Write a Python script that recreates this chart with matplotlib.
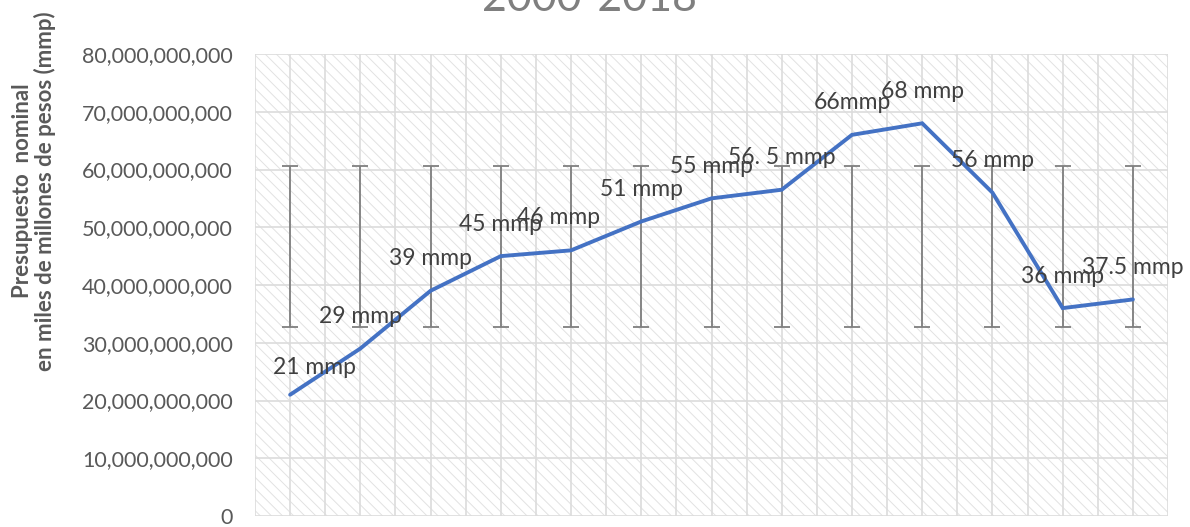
import numpy as np
import matplotlib
matplotlib.use("Agg")
import matplotlib.pyplot as plt
from matplotlib.ticker import FuncFormatter, MultipleLocator

plt.rcParams['font.family'] = ['Lato', 'DejaVu Sans']
plt.rcParams['hatch.linewidth'] = 0.7

# Presupuesto nominal por año (miles de millones de pesos)
years = list(range(2006, 2019))
budget_mmp = [21, 29, 39, 45, 46, 51, 55, 56.5, 66, 68, 56, 36, 37.5]
point_labels = ["21 mmp", "29 mmp", "39 mmp", "45 mmp", "46 mmp", "51 mmp",
                "55 mmp", "56. 5 mmp", "66mmp", "68 mmp", "56 mmp",
                "36 mmp", "37.5 mmp"]
title_text = "2000-2018"
ylabel_text = "Presupuesto  nominal\nen miles de millones de pesos (mmp)"

values = np.array(budget_mmp) * 1e9
x = np.arange(len(values))

# label placement (pixels relative to each point)
label_offsets = {0: (24, 27), 4: (-12, 33)}
default_offset = (0, 32)

fig = plt.figure(figsize=(11.90, 5.27), dpi=100)
ax = fig.add_axes([255 / 1190, 1 - 516 / 527, 913 / 1190, 462 / 527])

# hatched plot area
ax.set_facecolor('white')
ax.add_patch(plt.Rectangle((0, 0), 1, 1, transform=ax.transAxes,
                           facecolor='white', edgecolor='#e2e2e2', linewidth=0,
                           hatch='\\\\\\', zorder=0))

ax.set_xlim(-0.5, len(values) - 0.5)
ax.set_ylim(0, 80e9)
ax.yaxis.set_major_locator(MultipleLocator(10e9))
ax.xaxis.set_major_locator(MultipleLocator(0.5))
ax.grid(True, which='major', axis='both', color='#dcdcdc', linewidth=1.2, zorder=1)
ax.set_axisbelow(True)
for s in ax.spines.values():
    s.set_visible(False)
ax.tick_params(axis='x', length=0, labelbottom=False)
ax.tick_params(axis='y', length=0, pad=16, labelsize=15.5, labelcolor='#595959')
ax.yaxis.set_major_formatter(FuncFormatter(lambda v, p: f"{v:,.0f}"))

# standard-deviation error bars around the series mean
mean = values.mean()
sd = values.std(ddof=1)
ax.errorbar(x, np.full_like(values, mean), yerr=sd, fmt='none',
            ecolor='#7f7f7f', elinewidth=1.3, capsize=6, capthick=1.3, zorder=3)

ax.plot(x, values, color='#4472C4', linewidth=2.8, solid_capstyle='round',
        solid_joinstyle='miter', zorder=4)

for i, (v, lab) in enumerate(zip(values, point_labels)):
    dx, dy = label_offsets.get(i, default_offset)
    ax.annotate(lab, (x[i], v), xytext=(dx, dy), textcoords='offset pixels',
                ha='center', va='center', fontsize=16.5, color='#404040', zorder=5)

fig.text(590 / 1190, 1 - 11 / 527, title_text, ha='center', va='baseline',
         fontsize=31, color='#7f7f7f')
fig.text(34 / 1190, 1 - 191 / 527, ylabel_text, rotation=90, ha='center',
         va='center', multialignment='center', fontsize=16,
         fontweight='bold', color='#595959', linespacing=1.1)

fig.savefig('out.png', dpi=100)
